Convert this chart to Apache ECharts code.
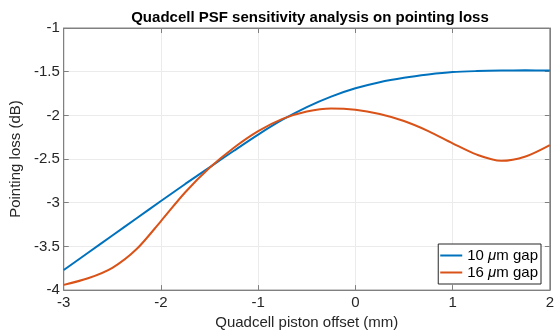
<!DOCTYPE html>
<html><head><meta charset="utf-8">
<script src="https://cdn.jsdelivr.net/npm/echarts@6/dist/echarts.min.js"></script>
<style>html,body{margin:0;padding:0;background:#fff}#c{width:557px;height:335px}</style>
</head><body><div id="c"></div>
<script>
const xValues = [-3,-2.75,-2.5,-2.25,-2,-1.75,-1.5,-1.25,-1,-0.75,-0.5,-0.25,0,0.25,0.5,0.75,1,1.25,1.5,1.75,2];
const gap10 = [-3.77,-3.5725,-3.375,-3.1775,-2.98,-2.785,-2.595,-2.405,-2.22,-2.05,-1.905,-1.785,-1.69,-1.62,-1.57,-1.533,-1.505,-1.493,-1.487,-1.485,-1.487];
const gap16 = [-3.94,-3.865,-3.745,-3.53,-3.21,-2.88,-2.60,-2.37,-2.18,-2.04,-1.955,-1.92,-1.935,-1.985,-2.065,-2.18,-2.32,-2.45,-2.52,-2.47,-2.34];
const seriesNames = ['10 μm gap','16 μm gap'];
const xTicks = [-3,-2,-1,0,1,2];
const yTicks = [-4,-3.5,-3,-2.5,-2,-1.5,-1];

const chart = echarts.init(document.getElementById('c'), null, {renderer:'canvas'});
const font = 'Liberation Sans, Arial, Helvetica, sans-serif';
const axisCol = '#262626';
const lineCol = '#808080';
function pairs(ys){ return xValues.map((x,i)=>[x, ys[i]]); }
function boxAxis(pos){
  return {axisLine:{show:true, onZero:false, lineStyle:{color:lineCol}},
    axisTick:{show:true, inside:true, length:5, lineStyle:{color:lineCol}},
    axisLabel:{show:false}, splitLine:{show:false}, position:pos};
}
chart.setOption({
  animation:false,
  title:{text:'Quadcell PSF sensitivity analysis on pointing loss', left:305, textAlign:'center', top:5,
    textStyle:{fontFamily:font, fontSize:15, fontWeight:'bold', color:'#000'}},
  grid:{left:58, right:5, top:28, bottom:44, show:true, borderColor:lineCol, borderWidth:1},
  legend:{right:16, bottom:51, orient:'vertical', backgroundColor:'#fff', borderColor:'#262626', borderWidth:1,
    padding:[4,3,4,2], itemGap:2, itemWidth:22, itemHeight:10,
    formatter: n => n.replace('μ','{it|μ}'),
    textStyle:{fontFamily:font, fontSize:15, lineHeight:15, color:'#000', rich:{it:{fontStyle:'italic', fontFamily:font, fontSize:15, lineHeight:15}}},
    data:seriesNames.map(n=>({name:n, icon:'path://M0,4L22,4L22,6L0,6Z'}))},
  xAxis:[{type:'value', min:xTicks[0], max:xTicks[xTicks.length-1], interval:1,
    name:'Quadcell piston offset (mm)', nameLocation:'middle', nameGap:24,
    nameTextStyle:{fontFamily:font, fontSize:15, color:axisCol},
    axisLine:{show:true, onZero:false, lineStyle:{color:lineCol}},
    axisTick:{show:true, inside:true, length:5, lineStyle:{color:lineCol}},
    axisLabel:{fontFamily:font, fontSize:15, color:axisCol, margin:5},
    splitLine:{show:true, lineStyle:{color:'#ebebeb'}}},
    Object.assign({type:'value', min:-3, max:2, interval:1}, boxAxis('top'))],
  yAxis:[{type:'value', min:yTicks[0], max:yTicks[yTicks.length-1], interval:0.5,
    name:'Pointing loss (dB)', nameLocation:'middle', nameGap:30,
    nameTextStyle:{fontFamily:font, fontSize:15, color:axisCol},
    axisLine:{show:true, onZero:false, lineStyle:{color:lineCol}},
    axisTick:{show:true, inside:true, length:5, lineStyle:{color:lineCol}},
    axisLabel:{fontFamily:font, fontSize:15, color:axisCol, margin:4},
    splitLine:{show:true, lineStyle:{color:'#ebebeb'}}},
    Object.assign({type:'value', min:-4, max:-1, interval:0.5}, boxAxis('right'))],
  series:[
    {name:seriesNames[0], type:'line', data:pairs(gap10), smooth:0.3, showSymbol:false, lineStyle:{color:'#0072BD', width:2}, itemStyle:{color:'#0072BD'}},
    {name:seriesNames[1], type:'line', data:pairs(gap16), smooth:0.3, showSymbol:false, lineStyle:{color:'#D95319', width:2}, itemStyle:{color:'#D95319'}}
  ]
});
</script></body></html>
